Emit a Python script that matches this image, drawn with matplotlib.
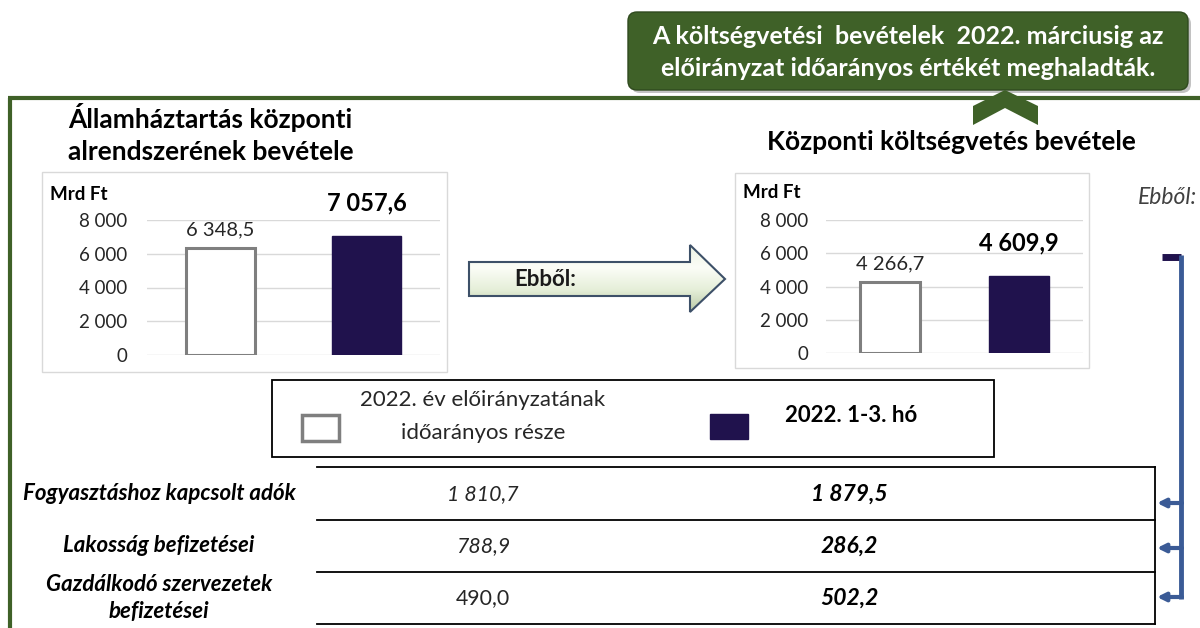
import matplotlib
matplotlib.use("Agg")
import numpy as np
import matplotlib.pyplot as plt
from matplotlib.patches import Rectangle, Polygon, FancyBboxPatch
from matplotlib.colors import LinearSegmentedColormap

plt.rcParams['font.family'] = ['Lato', 'DejaVu Sans']

# data
series_names = ['2022. év előirányzatának\nidőarányos része', '2022. 1-3. hó']
ahk_values = [6348.5, 7057.6]      # Államháztartás központi alrendszere
kkv_values = [4266.7, 4609.9]      # Központi költségvetés
y_ticks = [0, 2000, 4000, 6000, 8000]
row_labels = ['Fogyasztáshoz kapcsolt adók', 'Lakosság befizetései',
              'Gazdálkodó szervezetek\nbefizetései']
plan_values = [1810.7, 788.9, 490.0]
actual_values = [1879.5, 286.2, 502.2]

NAVY = '#20124d'
GREEN = '#3f6128'
GRAY = '#7f7f7f'
TXT = '#262626'
BLUE = '#3b5b96'

W, H = 1200, 628


def hu(v, dec=1):
    s = f"{v:,.{dec}f}"
    return s.replace(',', ' ').replace('.', ',')


def box(x0, y0, x1, y1):
    # pixel box -> figure fraction
    return [x0 / W, 1 - y1 / H, (x1 - x0) / W, (y1 - y0) / H]


fig = plt.figure(figsize=(12, 6.28), dpi=100)
ax = fig.add_axes([0, 0, 1, 1])
ax.set_xlim(0, W)
ax.set_ylim(H, 0)
ax.axis('off')

# green frame
ax.plot([8, 1200], [98, 98], color=GREEN, lw=3, solid_capstyle='butt')
ax.plot([10, 10], [98, 628], color=GREEN, lw=3, solid_capstyle='butt')

# banner
ax.add_patch(FancyBboxPatch((631, 15), 560, 78, boxstyle="round,pad=0,rounding_size=9",
                            fc='#9a9a9a', ec='none', alpha=0.6))
ax.add_patch(FancyBboxPatch((628, 12), 560, 78, boxstyle="round,pad=0,rounding_size=9",
                            fc=GREEN, ec='#2f4a1e', lw=1))
ax.text(908, 37, 'A költségvetési  bevételek  2022. márciusig az', color='white',
        fontsize=18, fontweight='bold', ha='center', va='center')
ax.text(908, 69, 'előirányzat időarányos értékét meghaladták.', color='white',
        fontsize=18, fontweight='bold', ha='center', va='center')
ax.add_patch(Polygon([(973, 106), (1005, 90), (1038, 106), (1038, 125),
                      (1005, 108), (973, 125)], closed=True, fc=GREEN, ec='none'))

# titles
ax.text(68, 117, 'Államháztartás központi', fontsize=19, fontweight='bold',
        color='black', ha='left', va='center')
ax.text(68, 152, 'alrendszerének bevétele', fontsize=19, fontweight='bold',
        color='black', ha='left', va='center')
ax.text(951, 142, 'Központi költségvetés bevétele', fontsize=19, fontweight='bold',
        color='black', ha='center', va='center')

# chart frames
ax.add_patch(Rectangle((42, 172), 405, 200, fc='white', ec='#d9d9d9', lw=1))
ax.add_patch(Rectangle((735, 173), 354, 195, fc='white', ec='#d9d9d9', lw=1))
ax.text(50, 195, 'Mrd Ft', fontsize=13.5, fontweight='bold', ha='left', va='center')
ax.text(743, 193, 'Mrd Ft', fontsize=13.5, fontweight='bold', ha='left', va='center')


def bar_chart(rect, values, pad):
    a = fig.add_axes(rect)
    a.set_xlim(-0.5, 1.5)
    a.set_ylim(0, 8000)
    a.bar(0, values[0], width=0.47, color='white', edgecolor=GRAY, linewidth=2.2, zorder=3)
    a.bar(1, values[1], width=0.47, color=NAVY, edgecolor=NAVY, zorder=3)
    a.set_yticks(y_ticks)
    a.set_yticklabels([hu(t, 0) for t in y_ticks], fontsize=13.5, color=TXT)
    a.tick_params(axis='y', length=0, pad=pad)
    a.set_xticks([])
    a.grid(axis='y', color='#d9d9d9', lw=1, zorder=0)
    for s in a.spines.values():
        s.set_visible(False)
    a.patch.set_alpha(0)
    a.annotate(hu(values[0]), (0, values[0]), xytext=(0, 18), textcoords='offset pixels',
               ha='center', va='center', fontsize=14.5, color=TXT, annotation_clip=False)
    a.annotate(hu(values[1]), (1, values[1]), xytext=(0, 33), textcoords='offset pixels',
               ha='center', va='center', fontsize=17, fontweight='bold', color='black',
               annotation_clip=False)
    return a


bar_chart(box(147, 220, 440, 355), ahk_values, 14.4)
bar_chart(box(826, 220, 1083, 353), kkv_values, 13)

# big arrow "Ebből:" with a soft vertical gradient
arrow = Polygon([(469, 262), (690, 262), (690, 245), (725, 279), (690, 312),
                 (690, 296), (469, 296)], closed=True, fc='none', ec='#3d5068', lw=1.5,
                zorder=3)
ax.add_patch(arrow)
grad = LinearSegmentedColormap.from_list('g', ['#eef4e4', '#fbfdf7', '#e6efd9', '#b9c9a6'])
im = ax.imshow(np.linspace(0, 1, 100).reshape(-1, 1), cmap=grad, aspect='auto',
               extent=(469, 725, 312, 245), zorder=2)
im.set_clip_path(arrow)
ax.set_xlim(0, W)
ax.set_ylim(H, 0)
ax.text(545, 279, 'Ebből:', fontsize=16, fontweight='bold', color='#1a1a1a',
        ha='center', va='center', zorder=4)
ax.text(1197, 197, 'Ebből:', fontsize=16.5, fontstyle='italic', color='#404040',
        ha='right', va='center')

# legend box
ax.add_patch(Rectangle((272, 380), 722, 77, fc='white', ec='black', lw=1.3))
ax.add_patch(Rectangle((302, 415), 37, 26, fc='white', ec=GRAY, lw=2.5))
ax.add_patch(Rectangle((710, 414), 38, 25, fc=NAVY, ec=NAVY, lw=1))
n1, n2 = series_names[0].split('\n')
ax.text(483, 400, n1, fontsize=16, color=TXT, ha='center', va='center')
ax.text(483, 433, n2, fontsize=16, color=TXT, ha='center', va='center')
ax.text(851, 415, series_names[1], fontsize=16, fontweight='bold', color='black',
        ha='center', va='center')

# table
lines_y = [467, 520, 572, 624]
for y in lines_y:
    ax.plot([317, 1155], [y, y], color='black', lw=1.3)
ax.plot([1155, 1155], [467, 624], color='black', lw=1.3)
row_y = [494, 546, 598]
for i, lab in enumerate(row_labels):
    ax.text(159, row_y[i], lab, fontsize=16, fontweight='bold', fontstyle='italic',
            ha='center', va='center', linespacing=1.3)
    st = 'italic' if i < 2 else 'normal'
    ax.text(483, row_y[i], hu(plan_values[i]), fontsize=15.3, fontstyle=st, color=TXT,
            ha='center', va='center')
    ax.text(849, row_y[i], hu(actual_values[i]), fontsize=16.5, fontweight='bold',
            fontstyle='italic', color='black', ha='center', va='center')

# connector from second bar to the table rows
ax.plot([1162, 1181], [257, 257], color=NAVY, lw=5, solid_capstyle='butt')
ax.plot([1181, 1181], [255, 599], color=BLUE, lw=3.5, solid_capstyle='butt')
for y in [503, 548, 597]:
    ax.annotate('', xy=(1157, y), xytext=(1182, y),
                arrowprops=dict(arrowstyle='-|>', color=BLUE, lw=3, mutation_scale=12,
                                shrinkA=0, shrinkB=0))

fig.savefig('out.png', dpi=100)
